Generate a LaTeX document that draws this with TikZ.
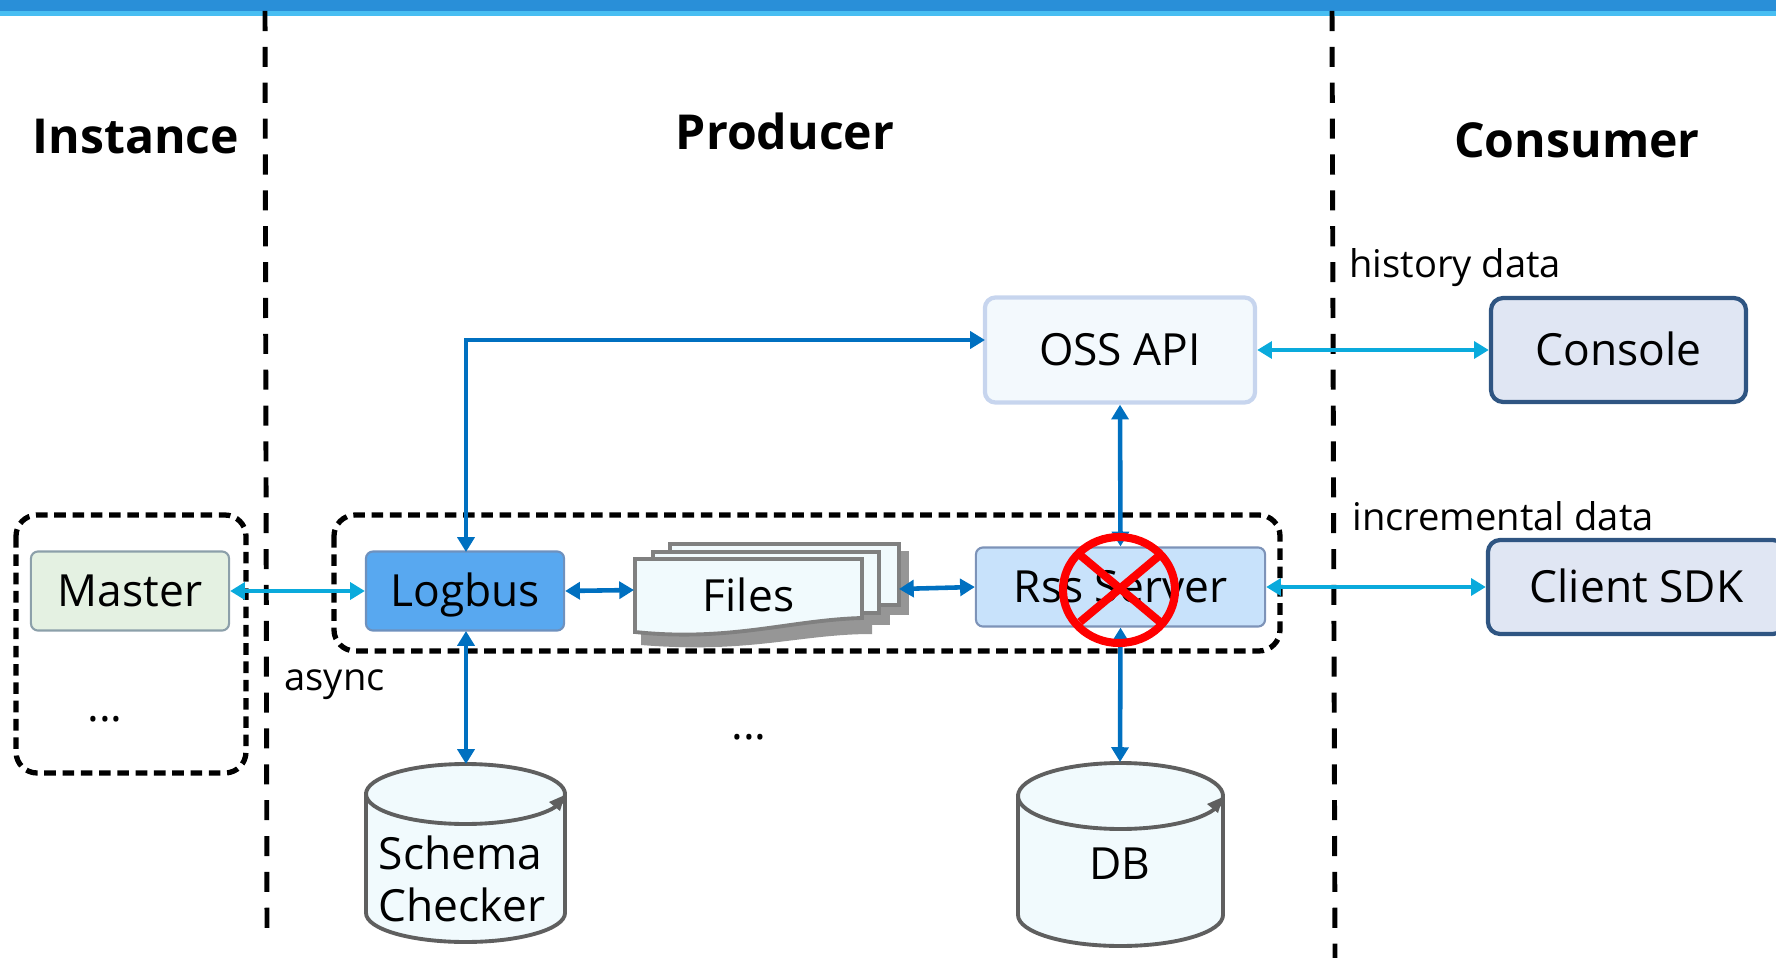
\documentclass[tikz,border=0pt]{standalone}
\usepackage{fontspec}
\setmainfont{Open Sans}
\usepackage{xcolor}
\usetikzlibrary{arrows.meta}
\usetikzlibrary{positioning}
\definecolor{bar-blue}{RGB}{41, 143, 216}
\definecolor{bar-light}{RGB}{72, 190, 242}
\definecolor{link-blue}{RGB}{0, 112, 192}
\definecolor{link-light}{RGB}{10, 170, 220}
\definecolor{master-green}{RGB}{228, 241, 226}
\definecolor{master-edge}{RGB}{140, 160, 170}
\definecolor{logbus-blue}{RGB}{88, 168, 240}
\definecolor{logbus-edge}{RGB}{110, 145, 190}
\definecolor{rss-blue}{RGB}{200, 226, 251}
\definecolor{rss-edge}{RGB}{125, 147, 184}
\definecolor{oss-white}{RGB}{243, 249, 253}
\definecolor{oss-edge}{RGB}{199, 213, 238}
\definecolor{client-blue}{RGB}{224, 230, 243}
\definecolor{client-edge}{RGB}{47, 85, 130}
\definecolor{drum-white}{RGB}{241, 250, 253}
\definecolor{drum-edge}{RGB}{95, 95, 95}
\definecolor{page-edge}{RGB}{128, 128, 128}
\definecolor{page-shadow}{RGB}{150, 150, 150}
\definecolor{cross-red}{RGB}{255, 0, 0}
\tikzset{
    boxlabel/.style={font=\fontsize{12.6}{15}\selectfont},
    headlabel/.style={font=\fontsize{13.7}{16}\selectfont\bfseries},
    notelabel/.style={font=\fontsize{10.85}{13}\selectfont, anchor=west},
    comp/.style={boxlabel, rectangle, rounded corners=2pt, line width=0.6pt, text height=0.4cm, text depth=0.09cm},
    clientbox/.style={comp, rounded corners=3.5pt, draw=client-edge, fill=client-blue, line width=1.2pt},
    divider/.style={line width=1.4pt, dash pattern=on 5.7pt off 4.5pt},
    groupbox/.style={line width=1.5pt, rounded corners=6pt, dash pattern=on 3.3pt off 1.9pt},
    link/.style={link-blue, line width=1.3pt, {Triangle[length=4.2pt,width=4.8pt]}-{Triangle[length=4.2pt,width=4.8pt]}},
    linklight/.style={link, link-light},
    drum/.style={fill=drum-white, draw=drum-edge, line width=1.1pt},
    pagesheet/.style={fill=drum-white, draw=page-edge, line width=1.1pt}
}
\begin{document}
\begin{tikzpicture}[x=0.01cm, y=-0.01cm]
\useasboundingbox (0,0) rectangle (1776,958);
\fill[bar-blue] (0,0) rectangle (1776,11);
\fill[bar-light] (0,11) rectangle (1776,16);

\coordinate (leftup) at (265,11);
\coordinate (leftdown) at (267,929);
\coordinate (rightup) at (1332,11);
\coordinate (rightdown) at (1335,958);
\draw[divider] (leftup) -- (leftdown);
\draw[divider] (rightup) -- (rightdown);

\node[headlabel] (instance) at (136,137) {Instance};
\node[headlabel] (producer) at (785,131) {Producer};
\node[headlabel] (consumer) at (1577,140) {Consumer};

\draw[groupbox] (16,515) rectangle (246,773);
\draw[groupbox] (334,515) rectangle (1280,651);

\node[comp, draw=master-edge, fill=master-green, minimum width=1.98cm, minimum height=0.79cm] (master) at (130,591) {Master};
\node[comp, draw=logbus-edge, fill=logbus-blue, minimum width=1.98cm, minimum height=0.79cm] (logbus) at (465,591) {Logbus};
\node[comp, draw=rss-edge, fill=rss-blue, minimum width=2.89cm, minimum height=0.79cm] (rss) at (1120.5,587) {Rss Server};
\node[comp, rounded corners=3pt, draw=oss-edge, fill=oss-white, line width=1.2pt, minimum width=2.7cm, minimum height=1.05cm] (oss) at (1120,350) {OSS API};
\node[clientbox, minimum width=2.55cm, minimum height=1.04cm] (console) at (1618.5,350) {Console};
\node[clientbox, minimum width=2.97cm, minimum height=0.94cm] (client) at (1636.5,587) {Client SDK};

\fill[page-shadow] (680,551) rectangle (909,615);
\fill[page-shadow] (660,560) rectangle (890,625);
\fill[page-shadow] (641,570) -- (872,570) -- (872,634) .. controls (800,634) and (750,654) .. (641,645) -- cycle;
\filldraw[pagesheet] (670,544) rectangle (899,605);
\filldraw[pagesheet] (653,552) rectangle (879,613);
\filldraw[pagesheet] (635,559) -- (862,559) -- (862,618) .. controls (790,620) and (730,642) .. (635,632) -- cycle;
\node[boxlabel, text height=0.4cm, text depth=0.09cm, minimum width=2.27cm, minimum height=0.7cm] (files) at (748.5,596) {Files};
\coordinate (filesin) at (634,590);
\coordinate (filesout) at (899,589);

\filldraw[drum] (366,794) -- (366,913) arc[start angle=180, end angle=0, x radius=99.5, y radius=29] -- (565,794) -- cycle;
\filldraw[drum] (465.5,794) ellipse [x radius=99.5, y radius=30];
\fill[drum-edge] (565,795) -- (549,802) -- (560,811) -- cycle;
\node[boxlabel, align=left, anchor=west, minimum height=1.78cm, inner sep=0pt] (schema) at (378,879) {Schema\\Checker};
\coordinate (schematop) at (466,764);

\filldraw[drum] (1018,796) -- (1018,915) arc[start angle=180, end angle=0, x radius=102.5, y radius=31] -- (1223,796) -- cycle;
\filldraw[drum] (1120.5,796) ellipse [x radius=102.5, y radius=33];
\fill[drum-edge] (1223,797) -- (1207,804) -- (1218,813) -- cycle;
\node[boxlabel] (db) at (1120,864) {DB};
\coordinate (dbtop) at (1120,762);

\coordinate (ossin) at (985,340);
\coordinate (logbusup) at (466,552);
\coordinate (logbusdown) at (466,631);
\draw[link] (logbusup) |- (ossin);
\draw[link] (logbusdown) -- (schematop);
\draw[link] (oss.south) -- (rss.north);
\draw[link] (rss.south) -- (dbtop);
\draw[link] (logbus.east) -- (filesin);
\draw[link] (filesout) -- (rss.west);
\draw[linklight] (master.east) -- (logbus.west);
\draw[linklight] (oss.east) -- (console.west);
\draw[linklight] (rss.east) -- (client.west);

\node[notelabel] (history) at (1337,268) {history data};
\node[notelabel] (incremental) at (1340,516) {incremental data};
\node[notelabel] (async) at (272,685) {async};
\node[boxlabel] (moreinst) at (105,719) {...};
\node[boxlabel] (moreprod) at (749,737) {...};

\draw[cross-red, line width=2.3pt] (1119,590) ellipse [x radius=56, y radius=53];
\draw[cross-red, line width=2.3pt] (1080,555) -- (1160,622);
\draw[cross-red, line width=2.3pt] (1160,555) -- (1080,622);
\end{tikzpicture}
\end{document}
